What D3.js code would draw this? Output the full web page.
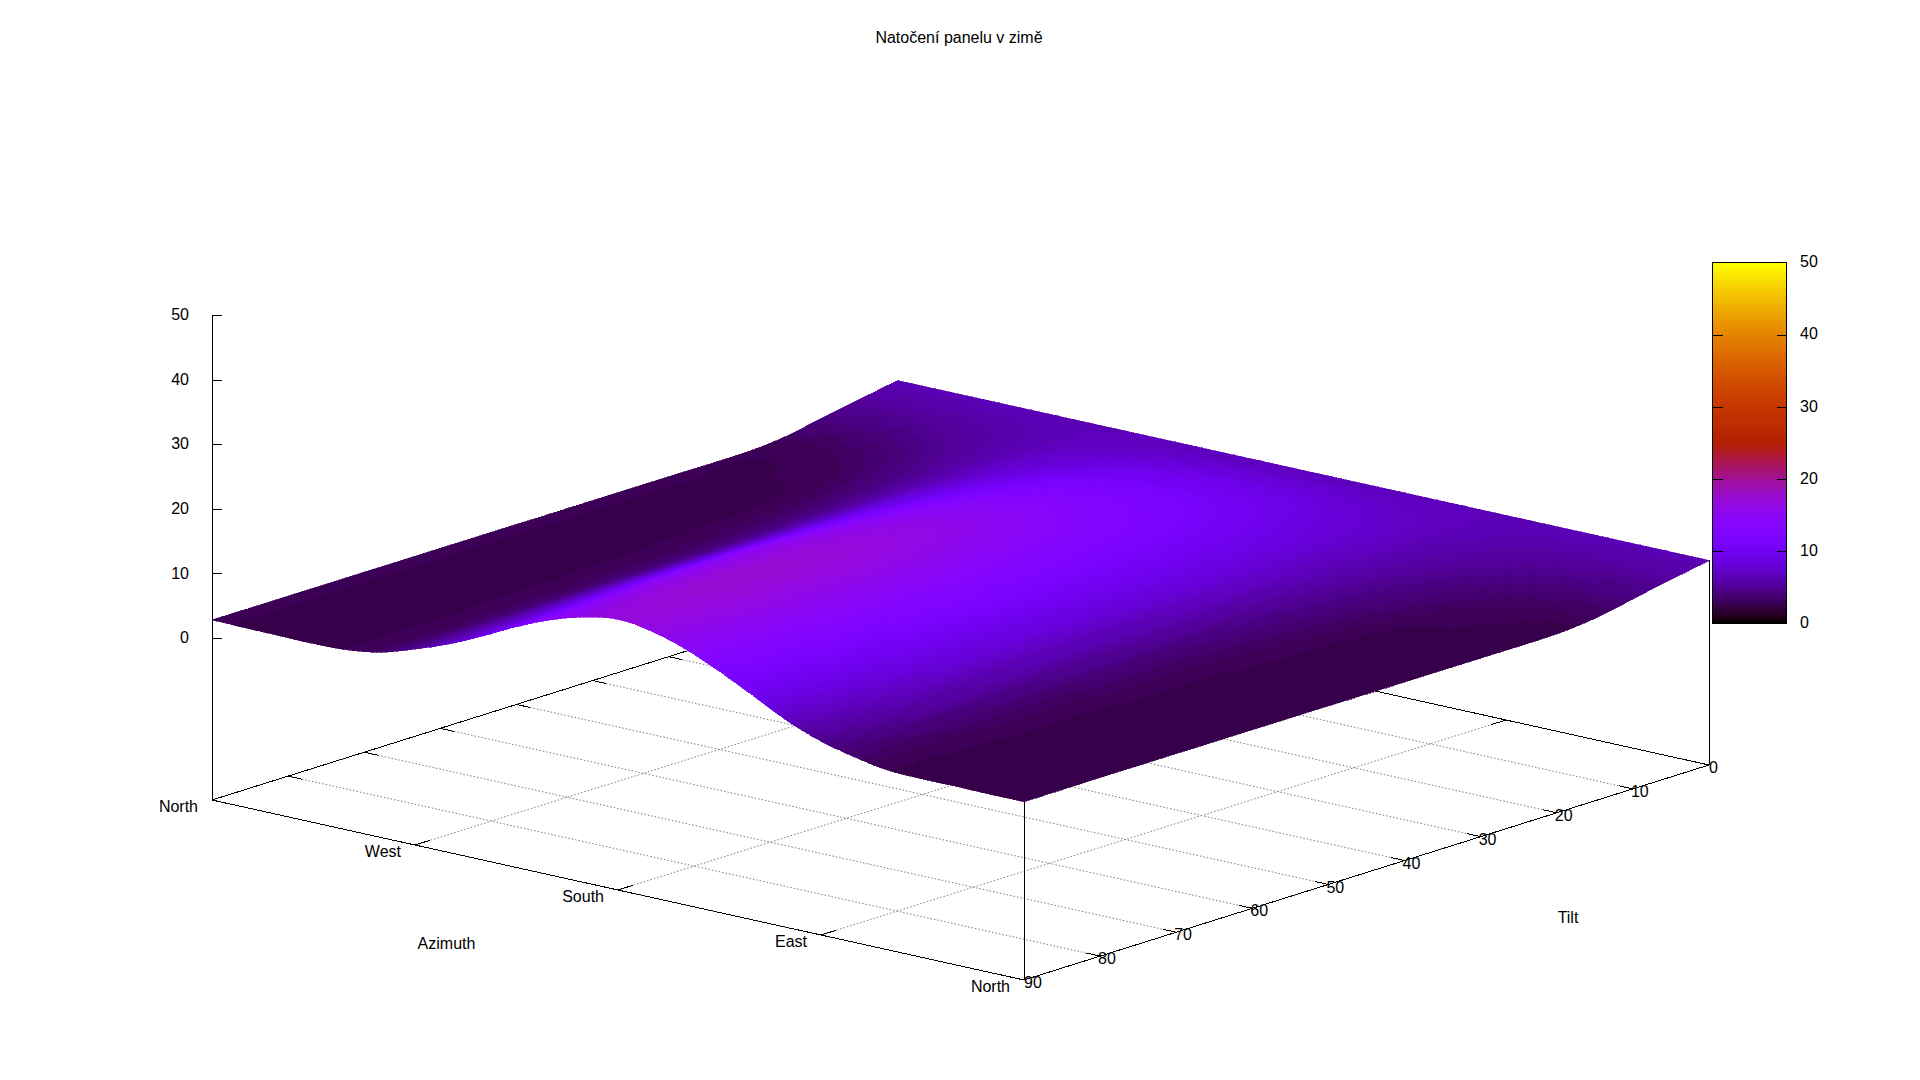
<!DOCTYPE html>
<html><head><meta charset="utf-8">
<style>html,body{margin:0;padding:0;background:#fff}svg{display:block}text{font-family:"Liberation Sans",Arial,sans-serif;font-size:16px;fill:#000}</style>
<script src="https://cdnjs.cloudflare.com/ajax/libs/d3/7.8.5/d3.min.js"></script>
</head><body><svg id="c" width="1920" height="1080"></svg>
<script>
const titleText = "Natočení panelu v zimě";
const azimuths = d3.range(0, 361, 15);
const tilts = [0,5,10,15,20,30,40,50,60,70,80,90];
const azTicks = [{v:0,t:"North"},{v:90,t:"West"},{v:180,t:"South"},{v:270,t:"East"},{v:360,t:"North"}];
const tiltTicks = [0,10,20,30,40,50,60,70,80,90];
const zTicks = [0,10,20,30,40,50];
const cbTicks = [0,10,20,30,40,50];
const z00 = [6.6,6.6,6.6,6.6,6.6,6.6,6.6,6.6,6.6,6.6,6.6,6.6,6.6,6.6,6.6,6.6,6.6,6.6,6.6,6.6,6.6,6.6,6.6,6.6,6.6];
const z05 = [5.5,5.4,5.5,5.7,5.95,6.25,6.6,6.95,7.2,7.45,7.65,7.75,7.8,7.75,7.65,7.45,7.2,6.95,6.6,6.25,5.95,5.7,5.5,5.4,5.5];
const z10 = [4.4,4.2,4.4,4.8,5.3,5.9,6.5,7.3,7.8,8.3,8.7,8.9,9.0,8.9,8.7,8.3,7.8,7.3,6.5,5.9,5.3,4.8,4.4,4.2,4.3];
const z15 = [3.25,3.15,3.35,3.85,4.65,5.5,6.45,7.6,8.35,9.05,9.7,10.0,10.1,10.0,9.7,9.05,8.35,7.6,6.45,5.5,4.65,3.85,3.35,3.1,3.15];
const z20 = [2.8,2.75,2.9,3.2,4.1,5.1,6.35,7.6,8.8,9.8,10.6,11.05,11.2,11.05,10.6,9.8,8.8,7.6,6.35,5.1,4.1,3.2,2.9,2.65,2.6];
const z30 = [2.8,2.7,2.65,2.7,3.4,4.5,6.1,8.0,9.6,11.1,12.2,12.9,13.2,12.9,12.2,11.1,9.6,8.0,6.1,4.5,3.4,2.7,2.6,2.55,2.55];
const z40 = [2.8,2.7,2.65,2.65,3.1,4.1,5.9,8.1,10.1,12.0,13.6,14.5,14.8,14.5,13.6,12.0,10.1,8.1,5.9,4.1,3.1,2.65,2.6,2.55,2.55];
const z50 = [2.8,2.7,2.65,2.6,2.95,3.9,5.8,8.1,10.4,12.7,14.5,15.7,16.1,15.7,14.5,12.7,10.4,8.1,5.8,3.9,2.95,2.6,2.6,2.55,2.55];
const z60 = [2.8,2.7,2.65,2.6,2.9,3.8,5.8,8.1,10.5,13.1,15.1,16.4,16.9,16.4,15.1,13.1,10.5,8.1,5.8,3.8,2.9,2.6,2.6,2.55,2.55];
const z70 = [2.8,2.7,2.65,2.6,2.85,3.7,5.7,8.0,10.4,13.0,15.2,16.6,17.3,16.6,15.2,13.0,10.4,8.0,5.7,3.7,2.85,2.6,2.6,2.55,2.55];
const z80 = [2.8,2.7,2.65,2.6,2.8,3.6,5.5,7.6,10.0,12.6,15.0,16.5,17.3,16.5,15.0,12.6,10.0,7.6,5.5,3.6,2.8,2.6,2.6,2.55,2.55];
const z90 = [2.8,2.7,2.65,2.6,2.8,3.6,5.25,7.2,9.6,12.2,14.4,16.0,16.8,16.1,14.5,12.2,9.6,6.9,4.9,3.6,2.7,2.55,2.55,2.5,2.5];
const surface = [z00,z05,z10,z15,z20,z30,z40,z50,z60,z70,z80,z90];

const svg = d3.select("#c");
const uS = d3.scaleLinear().domain([0,360]).range([0,1]);
const vS = d3.scaleLinear().domain([0,90]).range([0,1]);
const zBase = -25.08;
const zS = d3.scaleLinear().domain([zBase,50]).range([800,315]);
const baseX = (a,t)=>897+812*uS(a)-685*vS(t);
const baseY = (a,t)=>585+180*uS(a)+215*vS(t);
const px = (a,t)=>baseX(a,t);
const py = (a,t,z)=>baseY(a,t)+zS(z)-800;
const gray = d3.scaleLinear().domain([0,50]).range([0,1]).clamp(true);
function pal(g){const r=Math.sqrt(g),gg=g*g*g,b=Math.max(0,Math.sin(2*Math.PI*g));return d3.rgb(255*r,255*gg,255*b).formatHex();}
function zColor(z){const lv=Math.min(127,Math.floor(gray(z)*128));return pal(lv/127);}

const gGrid = svg.append("g").attr("fill","none").attr("stroke","#7c7c7c").attr("stroke-width",1).attr("stroke-dasharray","1.5,2");
const line = (g,a,b,c,d)=>g.append("line").attr("x1",a).attr("y1",b).attr("x2",c).attr("y2",d);
tiltTicks.slice(1,-1).forEach(t=>line(gGrid,baseX(0,t),baseY(0,t),baseX(360,t),baseY(360,t)));
azTicks.slice(1,-1).forEach(d=>line(gGrid,baseX(d.v,0),baseY(d.v,0),baseX(d.v,90),baseY(d.v,90)));
const gAx = svg.append("g").attr("stroke","#000").attr("stroke-width",1).attr("fill","none").attr("shape-rendering","crispEdges");
[[0,0,360,0],[360,0,360,90],[360,90,0,90],[0,90,0,0]].forEach(([a,t,a2,t2])=>line(gAx,baseX(a,t),baseY(a,t),baseX(a2,t2),baseY(a2,t2)));
tiltTicks.slice(1,-1).forEach(t=>{
  line(gAx,baseX(360,t),baseY(360,t),baseX(360-6,t),baseY(360-6,t));
  line(gAx,baseX(0,t),baseY(0,t),baseX(6,t),baseY(6,t));
});
azTicks.slice(1,-1).forEach(d=>{
  line(gAx,baseX(d.v,90),baseY(d.v,90),baseX(d.v,90-2),baseY(d.v,90-2));
  line(gAx,baseX(d.v,0),baseY(d.v,0),baseX(d.v,2),baseY(d.v,2));
});
line(gAx,baseX(360,90)+0.5,baseY(360,90),baseX(360,90)+0.5,py(360,90,z90[24]));
line(gAx,baseX(360,0)+0.5,baseY(360,0),baseX(360,0)+0.5,py(360,0,z00[24]));
const zAxis = d3.axisLeft(zS).tickValues(zTicks).tickFormat(d3.format("d")).tickSizeInner(-10).tickSizeOuter(0).tickPadding(23);
const gz = svg.append("g").attr("transform","translate(212,0)").call(zAxis);
gz.attr("font-family",null).attr("font-size",null);
gz.selectAll("line,path").attr("stroke","#000").attr("shape-rendering","crispEdges");
gz.selectAll("text").attr("dy","0.29em");

function herm(p1,p2,m1,m2,s,h){const s2=s*s,s3=s2*s;return (2*s3-3*s2+1)*p1+(s3-2*s2+s)*h*m1+(-2*s3+3*s2)*p2+(s3-s2)*h*m2;}
function interp1(xs,ys,x){
  const n=xs.length;let i=Math.max(0,Math.min(n-2,d3.bisectRight(xs,x)-1));
  const h=xs[i+1]-xs[i], s=(x-xs[i])/h;
  const sl=j=>{const a=Math.max(0,j-1),b=Math.min(n-1,j+1);return (ys[b]-ys[a])/(xs[b]-xs[a]);};
  return herm(ys[i],ys[i+1],sl(i),sl(i+1),s,h);
}
function zAt(a,t){
  const col=surface.map(r=>interp1(azimuths,r,a));
  return interp1(tilts,col,t);
}
const da=15/7, dt=10/8;
const gS = svg.append("g").attr("shape-rendering","crispEdges");
const cells=[];
for(let t=0;t<90-1e-6;t+=dt){ for(let a=0;a<360-1e-6;a+=da){ cells.push({a,t}); } }
cells.sort((p,q)=>(p.t+p.a/4)-(q.t+q.a/4));
cells.forEach(c=>{
  const {a,t}=c, a2=Math.min(360,a+da), t2=Math.min(90,t+dt);
  const pts=[[a,t],[a2,t],[a2,t2],[a,t2]].map(([x,y])=>[px(x,y),py(x,y,zAt(x,y))]);
  const col=zColor(zAt(a+da/2,t+dt/2));
  gS.append("path").attr("d","M"+pts.map(p=>p[0].toFixed(1)+","+p[1].toFixed(1)).join("L")+"Z").attr("fill",col).attr("stroke",col).attr("stroke-width",0.6);
});

const gL = svg.append("g");
azTicks.forEach(d=>{
  gL.append("text").attr("x",baseX(d.v,90)-14).attr("y",baseY(d.v,90)+6).attr("dy",".35em").attr("text-anchor","end").text(d.t);
});
tiltTicks.forEach(t=>{
  const dx = t===0?0:(t===90?0:-2);
  gL.append("text").attr("x",baseX(360,t)+dx).attr("y",baseY(360,t)+2.5).attr("dy",".35em").text(t);
});
gL.append("text").attr("x",446.5).attr("y",943).attr("dy",".35em").attr("text-anchor","middle").text("Azimuth");
gL.append("text").attr("x",1568).attr("y",917).attr("dy",".35em").attr("text-anchor","middle").text("Tilt");
gL.append("text").attr("x",959).attr("y",37).attr("dy",".35em").attr("text-anchor","middle").text(titleText);

const cb = d3.scaleLinear().domain([0,50]).range([623.5,262.5]);
const gC = svg.append("g").attr("shape-rendering","crispEdges");
d3.range(128).forEach(i=>{
  const y1=cb(i/128*50), y0=cb((i+1)/128*50);
  gC.append("rect").attr("x",1712.5).attr("y",y0).attr("width",74).attr("height",y1-y0+0.6).attr("fill",pal(i/127));
});
gC.append("rect").attr("x",1712.5).attr("y",262.5).attr("width",74).attr("height",361).attr("fill","none").attr("stroke","#000");
const cbAxis = d3.axisRight(cb).tickValues(cbTicks).tickFormat(d3.format("d")).tickSize(0).tickPadding(13.5);
const gcb = svg.append("g").attr("transform","translate(1786.5,0)").call(cbAxis);
gcb.attr("font-family",null).attr("font-size",null);
gcb.select("path").remove();
gcb.selectAll("text").attr("dy","0.26em");
cbTicks.slice(1,-1).forEach(v=>{
  const y=Math.round(cb(v))+0.5;
  line(svg,1712.5,y,1722.5,y).attr("stroke","#000").attr("shape-rendering","crispEdges");
  line(svg,1776.5,y,1786.5,y).attr("stroke","#000").attr("shape-rendering","crispEdges");
});
</script></body></html>
